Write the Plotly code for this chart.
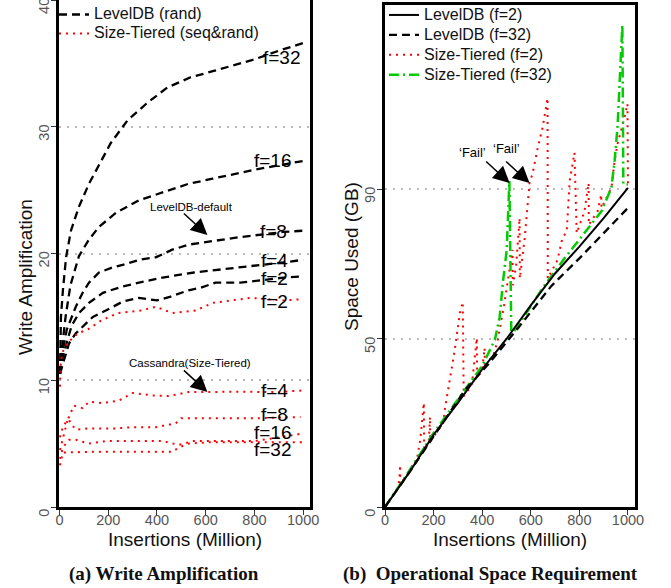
import plotly.graph_objects as go

# ---------------- (a) Write amplification ----------------
ldb32_x = [2, 6, 14, 27, 47, 80, 121, 157, 190, 210, 279, 361, 443, 538, 633, 797, 900, 1000]
ldb32_y = [10.5, 15, 17.1, 19.7, 21.8, 23.7, 25.5, 26.8, 27.9, 28.7, 30.5, 31.9, 33.1, 33.9, 34.4, 35.3, 36.0, 36.6]
ldb16_x = [2, 10, 25, 45, 80, 121, 162, 231, 326, 423, 530, 628, 797, 1000]
ldb16_y = [10.5, 12.5, 15, 17.5, 19.8, 21.1, 22.1, 23.2, 24.2, 24.8, 25.5, 25.9, 26.6, 27.3]
ldb8_x = [2, 10, 30, 67, 95, 121, 162, 218, 259, 327, 395, 463, 530, 599, 743, 920, 1000]
ldb8_y = [10.5, 12, 14, 15.8, 16.9, 17.7, 18.5, 18.9, 19.1, 19.5, 19.7, 20.3, 20.7, 20.9, 21.3, 21.7, 21.8]
ldb4_x = [2, 10, 30, 50, 80, 121, 178, 259, 326, 423, 552, 743, 920, 1000]
ldb4_y = [10.5, 11.5, 13, 14.3, 15.3, 16.1, 16.9, 17.4, 17.7, 18.1, 18.5, 18.9, 19.3, 19.5]
ldb2_x = [2, 18, 39, 67, 137, 190, 259, 326, 400, 456, 530, 579, 640, 743, 920, 1000]
ldb2_y = [10.5, 11.6, 12.9, 13.7, 15.0, 15.5, 16.2, 16.5, 16.3, 16.6, 17.1, 17.3, 17.7, 17.7, 18.1, 18.2]

st2_x = [2, 6, 19, 47, 75, 116, 170, 239, 333, 395, 463, 558, 628, 784, 920, 1000]
st2_y = [9.5, 11.6, 12.6, 13.2, 13.7, 14.0, 14.7, 15.3, 15.5, 15.8, 15.3, 15.5, 16.1, 16.5, 16.3, 16.4]
st4_x = [2, 14, 39, 59, 95, 121, 178, 244, 301, 383, 448, 530, 612, 700, 893, 1000]
st4_y = [5.5, 6.3, 7.1, 8.0, 7.8, 8.3, 8.2, 8.4, 9.0, 8.8, 8.75, 9.07, 9.07, 9.1, 9.07, 9.2]
st8_x = [2, 14, 35, 50, 67, 121, 162, 231, 301, 395, 477, 500, 530, 612, 800, 989]
st8_y = [4.5, 5.5, 7.0, 6.5, 6.1, 6.2, 6.2, 6.2, 6.3, 6.3, 6.6, 7.0, 7.0, 7.0, 7.0, 7.1]
st16_x = [2, 14, 40, 67, 121, 190, 326, 423, 490, 546, 612, 800, 900, 1000]
st16_y = [3.8, 4.7, 5.3, 5.3, 5.0, 5.2, 5.2, 5.2, 4.9, 5.2, 5.2, 5.2, 5.5, 5.8]
st32_x = [2, 14, 121, 326, 463, 490, 530, 612, 800, 1000]
st32_y = [3.3, 4.3, 4.35, 4.35, 4.35, 4.7, 5.0, 5.1, 5.1, 5.1]

wa_labels = ["f=32", "f=16", "f=8", "f=4", "f=2", "f=2", "f=4", "f=8", "f=16", "f=32"]
wa_label_x = [914, 877, 877, 881, 881, 881, 881, 881, 877, 877]
wa_label_y = [35.5, 27.3, 21.76, 19.45, 18.0, 16.25, 9.23, 7.26, 5.9, 4.55]

wa_xticks = [0, 200, 400, 600, 800, 1000]
wa_yticks = [0, 10, 20, 30, 40]

# ---------------- (b) Space used ----------------
ldbA_x = [0, 100, 200, 300, 400, 500, 600, 700, 800, 900, 1000]
ldbA_y = [0, 10.3, 21.5, 31, 41, 50, 60, 69.5, 77.5, 86, 95]
ldbB_x = [0, 100, 200, 246, 329, 423, 548, 685, 800, 900, 1000]
ldbB_y = [0, 10.3, 21, 25.9, 34.8, 42.3, 53.3, 65.8, 74, 81.5, 89]
stA_x = [0, 30, 55, 60, 62, 63, 100, 131, 145, 160, 161, 180, 185, 186, 240, 246, 287, 308, 320, 324,
         355, 361, 378, 379, 400, 410, 411, 450, 464, 490, 510, 525, 526, 540, 554, 555, 575, 595, 608,
         629, 649, 669, 670, 710, 730, 748, 760, 780, 789, 821, 838, 839, 875, 890, 891, 932, 945, 957,
         986, 998, 1000]
stA_y = [0, 3, 5.8, 9, 12.5, 6.8, 10.5, 14, 20, 31, 17, 19, 26.8, 19.5, 25, 28.9, 46.7, 57.7, 61, 33,
         36, 38.7, 50.3, 38.5, 41, 47.3, 41.5, 46, 49.7, 60, 70, 76.5, 66, 72, 86, 68, 80, 96.4, 99.4,
         107, 113, 121.7, 68, 73.5, 80, 82, 97, 105.4, 81.5, 88, 96.4, 84, 88, 93, 89, 95, 103, 108,
         116, 120, 95]
stB_x = [0, 100, 200, 300, 400, 452, 472, 485, 501, 512, 520, 575, 657, 739, 821, 891, 932, 945, 957,
         965, 973, 977, 981, 1000]
stB_y = [0, 10.8, 22, 32, 42, 49.7, 56.5, 66.7, 76.5, 97, 51, 57, 66, 74, 81.5, 88, 95, 103, 113,
         126, 136, 143.5, 96, 96]

sp_xticks = [0, 200, 400, 600, 800, 1000]
sp_yticks = [0, 50, 94.64]
sp_yticktext = ["0", "50", "90"]

FONT = "Liberation Sans, Arial, Helvetica, sans-serif"
BLACK_DASH = "8px,5px"
RED_DOT = "2px,5px"
GREEN_DD = "10px,4px,2px,4px"


def big(name):
    return "<span style='font-size:16px'>" + name + "</span>"


fig = go.Figure()

# left panel
for i, (xs, ys) in enumerate([(ldb32_x, ldb32_y), (ldb16_x, ldb16_y), (ldb8_x, ldb8_y),
                               (ldb4_x, ldb4_y), (ldb2_x, ldb2_y)]):
    fig.add_trace(go.Scatter(x=xs, y=ys, mode="lines", name=big("LevelDB (rand)"),
                             legendgroup="ldb", showlegend=(i == 0), legend="legend",
                             line=dict(color="black", width=2.3, dash=BLACK_DASH),
                             xaxis="x", yaxis="y"))
for i, (xs, ys) in enumerate([(st2_x, st2_y), (st4_x, st4_y), (st8_x, st8_y),
                               (st16_x, st16_y), (st32_x, st32_y)]):
    fig.add_trace(go.Scatter(x=xs, y=ys, mode="lines", name=big("Size-Tiered (seq&amp;rand)"),
                             legendgroup="st", showlegend=(i == 0), legend="legend",
                             line=dict(color="red", width=2, dash=RED_DOT),
                             xaxis="x", yaxis="y"))

# right panel
fig.add_trace(go.Scatter(x=stA_x, y=stA_y, mode="lines", name=big("Size-Tiered (f=2)"), legend="legend2",
                         legendrank=3, line=dict(color="red", width=2, dash=RED_DOT),
                         xaxis="x2", yaxis="y2"))
fig.add_trace(go.Scatter(x=stB_x, y=stB_y, mode="lines", name=big("Size-Tiered (f=32)"), legend="legend2",
                         legendrank=4, line=dict(color="#00CC00", width=2.5, dash=GREEN_DD),
                         xaxis="x2", yaxis="y2"))
fig.add_trace(go.Scatter(x=ldbB_x, y=ldbB_y, mode="lines", name=big("LevelDB (f=32)"), legend="legend2",
                         legendrank=2, line=dict(color="black", width=2.3, dash=BLACK_DASH),
                         xaxis="x2", yaxis="y2"))
fig.add_trace(go.Scatter(x=ldbA_x, y=ldbA_y, mode="lines", name=big("LevelDB (f=2)"), legend="legend2",
                         legendrank=1, line=dict(color="black", width=2),
                         xaxis="x2", yaxis="y2"))

H = 588.0
W = 671.0
axis_common = dict(showline=True, mirror=True, linewidth=3, linecolor="black",
                   ticks="outside", ticklen=5, tickwidth=1, tickcolor="#333",
                   tickfont=dict(family=FONT, size=14.5, color="#555"),
                   ticklabeloverflow="allow",
                   zeroline=False, automargin=False)

fig.update_layout(
    width=671, height=588,
    margin=dict(l=0, r=0, t=0, b=0, autoexpand=False),
    plot_bgcolor="white", paper_bgcolor="white",
    font=dict(family=FONT, color="black"),
    xaxis=dict(domain=[59 / W, 310 / W], range=[-2, 1028], tickvals=wa_xticks,
               ticklabelstandoff=-7,
               showgrid=False, anchor="y", **axis_common),
    yaxis=dict(domain=[(H - 507) / H, 1.0], range=[0, 40], tickvals=wa_yticks,
               tickangle=-90, ticklabelshift=8, ticklabelstandoff=-4,
               showgrid=True, gridcolor="#bbbbbb", gridwidth=2, griddash="2px,6px",
               anchor="x", **axis_common),
    xaxis2=dict(domain=[385 / W, 635 / W], range=[0, 1029], tickvals=sp_xticks,
                ticklabelstandoff=-7,
                showgrid=False, anchor="y2", **axis_common),
    yaxis2=dict(domain=[(H - 507) / H, (H - 5) / H], range=[0, 149.4], tickvals=sp_yticks,
                ticktext=sp_yticktext, tickangle=-90, ticklabelshift=8, ticklabelstandoff=-4,
                showgrid=True, gridcolor="#bbbbbb", gridwidth=2, griddash="2px,6px",
                anchor="x2", **axis_common),
    legend=dict(x=54 / W, y=1.0, xanchor="left", yanchor="top", bgcolor="rgba(0,0,0,0)",
                font=dict(family=FONT, size=12, color="#111"), itemwidth=30,
                tracegroupgap=0),
    legend2=dict(x=384 / W, y=1.0, xanchor="left", yanchor="top", bgcolor="rgba(0,0,0,0)",
                 font=dict(family=FONT, size=13, color="#111"), itemwidth=30,
                 traceorder="normal"),
)

ann = []
# f labels
for t, x, y in zip(wa_labels, wa_label_x, wa_label_y):
    ann.append(dict(text=t, x=x, y=y, xref="x", yref="y", showarrow=False,
                    font=dict(family=FONT, size=19, color="black"), xanchor="center", yanchor="middle"))

NARROW = "Liberation Sans Narrow, Arial Narrow, Liberation Sans, sans-serif"
ARW = dict(showarrow=True, arrowhead=2, arrowsize=2.2, arrowwidth=1.5, arrowcolor="black",
           ax=-25, ay=-23)
ann.append(dict(text="LevelDB-default", x=542, y=23.66, xref="x", yref="y", showarrow=False,
                xanchor="center", yanchor="middle",
                font=dict(family=NARROW, size=11.5, color="black")))
ann.append(dict(text="", x=607, y=21.45, xref="x", yref="y", **ARW))
ann.append(dict(text="Cassandra(Size-Tiered)", x=534, y=11.36, xref="x", yref="y", showarrow=False,
                xanchor="center", yanchor="middle",
                font=dict(family=NARROW, size=11.5, color="black")))
ann.append(dict(text="", x=607, y=9.07, xref="x", yref="y", **ARW))

# Fail annotations
ann.append(dict(text="\u2018Fail\u2019", x=361, y=105.4, xref="x2", yref="y2", showarrow=False,
                xanchor="center", yanchor="middle",
                font=dict(family=NARROW, size=13, color="black")))
ann.append(dict(text="\u2018Fail\u2019", x=501, y=106.8, xref="x2", yref="y2", showarrow=False,
                xanchor="center", yanchor="middle",
                font=dict(family=NARROW, size=13, color="black")))
ann.append(dict(text="", x=513, y=96.4, xref="x2", yref="y2", **ARW))
ann.append(dict(text="", x=595, y=96.4, xref="x2", yref="y2", **ARW))

# axis titles
TF = dict(family=FONT, size=19, color="#111")
for txt, px, py, ang in [("Insertions (Million)", 184.5, 539, 0),
                         ("Insertions (Million)", 510, 539, 0),
                         ("Write Amplification", 25, 277, -90),
                         ("Space Used (GB)", 351, 256, -90)]:
    ann.append(dict(text=txt, x=px / W, y=1 - py / H, xref="paper", yref="paper",
                    xanchor="center", yanchor="middle", showarrow=False, textangle=ang, font=TF))

# captions
CF = dict(family="Liberation Serif, Times New Roman, serif", size=19, color="#111")
for txt, px in [("<b>(a) Write Amplification</b>", 164),
                ("<b>(b)\u00a0\u00a0Operational Space Requirement</b>", 490)]:
    ann.append(dict(text=txt, x=px / W, y=1 - 574 / H, xref="paper", yref="paper",
                    xanchor="center", yanchor="middle", showarrow=False, font=CF))

fig.update_layout(annotations=ann)
fig.write_html("out.html", config={"displayModeBar": False},
               post_script="document.body.style.margin='0px';")
